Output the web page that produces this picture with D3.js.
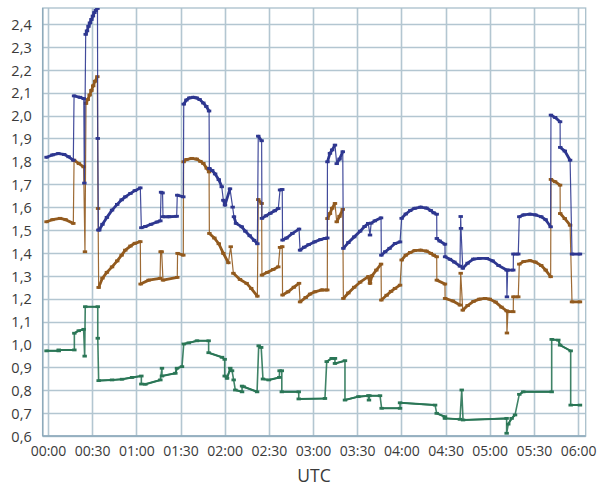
<!DOCTYPE html>
<html>
<head>
<meta charset="utf-8">
<script src="https://cdn.jsdelivr.net/npm/d3@7/dist/d3.min.js"></script>
<style>
  html, body { margin: 0; padding: 0; background: #ffffff; }
  svg { display: block; }
  text { font-family: "Open Sans", "Noto Sans", sans-serif; fill: #3a3a3a; }
</style>
</head>
<body>
<script>
// ---- data (time in minutes after 00:00 UTC, value) ----
const xTicks = [0, 30, 60, 90, 120, 150, 180, 210, 240, 270, 300, 330, 360];
const xTickLabels = ["00:00","00:30","01:00","01:30","02:00","02:30","03:00","03:30","04:00","04:30","05:00","05:30","06:00"];
const yTicks = [0.6,0.7,0.8,0.9,1.0,1.1,1.2,1.3,1.4,1.5,1.6,1.7,1.8,1.9,2.0,2.1,2.2,2.3,2.4];
const axisTitle = "UTC";

const blueSeries = [
  [-1,1.818],[3,1.828],[7,1.834],[11,1.830],[14,1.820],[17.2,1.805],
  [17.7,2.086],[21.7,2.080],[24.3,2.074],[24.7,1.705],[25.6,2.355],[26.5,2.37],[27.5,2.39],[28.5,2.405],
  [29.5,2.42],[30.5,2.435],[31.5,2.45],[32.5,2.46],[33.6,2.468],[33.8,1.90],[34.2,1.50],
  [34.8,1.50],[37,1.525],[40,1.555],[43.5,1.587],[47,1.612],[50,1.632],[52.5,1.645],[56,1.660],[59,1.672],[62.7,1.684],
  [63.4,1.51],[66,1.515],[70,1.525],[74,1.535],[76.3,1.54],[76.8,1.665],[77.8,1.662],[78.1,1.558],[82,1.558],[87.4,1.56],
  [87.8,1.652],[91.9,1.645],[92.2,2.05],[94,2.068],[96,2.077],[98.7,2.08],[101,2.077],[103,2.07],[105.5,2.055],[107.5,2.04],[109.4,2.02],
  [109.6,1.769],[111.5,1.76],[113.5,1.745],[116,1.72],[118,1.689],[119.1,1.63],[120.2,1.609],[123.6,1.68],[125.4,1.60],
  [126.3,1.558],[127.7,1.529],[131.6,1.514],[134,1.495],[137,1.475],[140,1.455],[142.2,1.44],
  [142.8,1.91],[145.1,1.89],[145.3,1.551],[148,1.562],[151,1.573],[154,1.584],[156.4,1.594],[157.6,1.675],[159.1,1.677],
  [159.3,1.456],[162,1.465],[166,1.485],[170.5,1.504],[171.2,1.412],[174,1.425],[177,1.436],[181,1.448],[185,1.458],[188.1,1.463],[189.7,1.465],
  [189.8,1.798],[191.5,1.835],[193,1.85],[194.9,1.871],[196.1,1.79],[198,1.81],[200.2,1.842],
  [200.6,1.42],[204,1.445],[208,1.47],[212,1.495],[215,1.515],[217.5,1.529],[218.7,1.478],[219.5,1.53],[222,1.54],[226.2,1.553],
  [226.4,1.39],[229,1.405],[232,1.42],[235.7,1.441],[239.1,1.448],
  [240.2,1.551],[243,1.57],[246,1.585],[249,1.595],[253.1,1.60],[257,1.596],[260,1.585],[262,1.575],[264,1.569],
  [264.1,1.463],[266,1.452],[269.6,1.438],[269.7,1.383],[273,1.372],[276,1.36],[279.8,1.342],[280.3,1.559],[280.5,1.507],
  [281.7,1.333],[285,1.355],[288.9,1.373],[293,1.376],[298,1.376],[302,1.365],[306,1.345],[311.5,1.325],
  [311.7,1.208],[312.2,1.325],[316,1.325],[316.1,1.395],[319.4,1.395],
  [320.1,1.558],[323,1.566],[327.4,1.569],[331,1.566],[335,1.558],[338,1.545],[341.4,1.514],
  [341.6,2.002],[344.4,1.992],[347.8,1.973],[347.9,1.861],[351,1.845],[354.6,1.805],[355.9,1.395],[361.3,1.395]
];

const brownSeries = [
  [-1,1.536],[3,1.545],[8.2,1.551],[12,1.545],[17.2,1.529],[17.7,1.805],[21,1.79],[24.2,1.776],[25.1,1.405],
  [25.8,2.053],[27,2.07],[28.3,2.09],[29.5,2.11],[30.7,2.13],[32,2.15],[33.5,2.17],[34.0,1.594],[34.4,1.249],
  [37,1.29],[40,1.315],[43.5,1.339],[47,1.365],[50,1.39],[52.5,1.412],[56,1.43],[59,1.442],[62.7,1.449],
  [62.9,1.264],[68.4,1.281],[76.1,1.289],[76.5,1.405],[77.2,1.405],[78.1,1.281],[87.8,1.293],[88,1.398],[91.9,1.39],
  [92.1,1.798],[94,1.808],[97.6,1.813],[101,1.81],[103.5,1.80],[105.5,1.791],[107.8,1.77],[109.4,1.754],
  [109.6,1.485],[113,1.465],[116,1.44],[119.1,1.398],[122.5,1.357],[124.1,1.427],[125.9,1.311],[130.4,1.284],
  [134.9,1.267],[138,1.245],[142.2,1.211],[142.8,1.633],[145.1,1.616],[145.3,1.303],[149,1.315],[153,1.328],[156.4,1.339],
  [157.6,1.424],[159.1,1.427],[159.3,1.216],[163,1.23],[167,1.25],[170.5,1.267],[171.2,1.186],[175,1.205],[178,1.22],
  [181.3,1.23],[186,1.238],[189.7,1.238],[189.8,1.55],[191.5,1.572],[193,1.595],[194.9,1.616],[196.1,1.536],[198,1.56],[200.2,1.59],
  [200.6,1.201],[204,1.225],[208,1.25],[212,1.272],[217.5,1.296],[218.7,1.267],[220,1.3],[223,1.325],[226.2,1.351],
  [226.4,1.194],[230,1.215],[233,1.232],[235.7,1.245],[239.1,1.259],
  [240.2,1.369],[243,1.39],[246,1.402],[249,1.41],[253.1,1.412],[257,1.408],[260,1.398],[262,1.39],[264,1.383],
  [264.1,1.281],[269.6,1.264],[269.7,1.201],[275,1.19],[279.8,1.172],[280.3,1.311],[281.7,1.15],
  [285,1.17],[289,1.188],[293,1.198],[296.8,1.201],[300,1.198],[304,1.185],[308,1.163],[311.5,1.147],
  [311.7,1.05],[312.4,1.143],[316,1.143],[316.1,1.208],[319.4,1.208],
  [320.1,1.351],[323,1.362],[327.4,1.366],[331,1.36],[335,1.345],[338,1.325],[341.4,1.296],
  [341.6,1.721],[344.4,1.711],[347.8,1.696],[347.9,1.572],[351,1.55],[354.6,1.521],[355.9,1.186],[361.3,1.186]
];

const greenSeries = [
  [-1,0.972],[7.3,0.972],[7.3,0.976],[17.9,0.976],[17.9,1.049],[20.9,1.06],[24.2,1.066],[24.9,0.949],[25.3,1.165],
  [33.8,1.165],[33.8,1.027],[34.4,0.842],[43.5,0.845],[50.3,0.848],[57.1,0.856],[63.4,0.862],[63.4,0.827],[66.1,0.826],
  [76.3,0.845],[77.4,0.896],[77.4,0.862],[86.5,0.874],[87.6,0.896],[91.0,0.903],[92.2,1.002],[95.6,1.007],[101.2,1.016],
  [109.1,1.016],[109.1,0.964],[118.2,0.944],[120.0,0.935],[120.0,0.862],[121.6,0.852],[123.8,0.896],[125.0,0.885],
  [126.1,0.845],[127.2,0.801],[131.8,0.793],[131.8,0.818],[132.9,0.815],[142.0,0.793],[143.1,0.994],[144.8,0.987],
  [146.0,0.849],[149.9,0.845],[157.1,0.856],[157.3,0.885],[158.8,0.885],[158.8,0.793],[170.3,0.793],[170.3,0.762],
  [188.1,0.764],[189.3,0.925],[192.7,0.939],[194.9,0.939],[194.9,0.917],[201.7,0.929],[201.7,0.757],[210.8,0.772],
  [217.5,0.776],[218.0,0.757],[218.3,0.776],[225.5,0.776],[226.6,0.721],[239.1,0.721],[239.1,0.745],[262.9,0.735],
  [264.0,0.699],[269.6,0.684],[269.6,0.677],[279.8,0.673],[281.0,0.801],[281.9,0.67],[311.5,0.677],[311.5,0.612],
  [312.6,0.652],[314.9,0.677],[317.2,0.692],[320.1,0.782],[322.8,0.793],[342.1,0.793],[342.1,1.022],[346.6,1.019],
  [347.8,0.997],[355.0,0.972],[355.0,0.735],[361.3,0.735]
];

const seriesColors = ["#2e3790", "#925a1e", "#2a7656"];

// ---- layout ----
const W = 598, H = 486;
const plot = { left: 42.7, right: 585.7, top: 8, bottom: 436 };

const svg = d3.select("body").append("svg").attr("width", W).attr("height", H);

const x = d3.scaleLinear().domain([-3.6, 365.2]).range([plot.left, plot.right]);
const y = d3.scaleLinear().domain([0.6, 2.47]).range([plot.bottom, plot.top]);

const grid = svg.append("g");
grid.selectAll("line.h").data(yTicks).enter().append("line")
  .attr("x1", plot.left).attr("x2", plot.right)
  .attr("y1", d => Math.round(y(d)) + 0.5).attr("y2", d => Math.round(y(d)) + 0.5)
  .attr("stroke", "#b3c6d1").attr("stroke-width", 1.3);
grid.selectAll("line.v").data(xTicks).enter().append("line")
  .attr("y1", plot.top).attr("y2", plot.bottom)
  .attr("x1", d => Math.round(x(d)) + 0.5).attr("x2", d => Math.round(x(d)) + 0.5)
  .attr("stroke", "#b3c6d1").attr("stroke-width", 1.6);
svg.append("rect")
  .attr("x", plot.left).attr("y", plot.top)
  .attr("width", plot.right - plot.left).attr("height", plot.bottom - plot.top)
  .attr("fill", "none").attr("stroke", "#a9bfcb").attr("stroke-width", 1.3);
svg.append("line").attr("x1", plot.left).attr("x2", plot.left).attr("y1", plot.top).attr("y2", plot.bottom)
  .attr("stroke", "#8eaabb").attr("stroke-width", 1.5);
svg.append("line").attr("x1", plot.left).attr("x2", plot.right).attr("y1", plot.bottom).attr("y2", plot.bottom)
  .attr("stroke", "#8eaabb").attr("stroke-width", 1.5);

const yAxis = d3.axisLeft(y).tickValues(yTicks).tickSize(0).tickPadding(0)
  .tickFormat(d => d3.format(".1f")(d).replace(".", ","));
const gy = svg.append("g").attr("transform", `translate(${plot.left - 11},0)`).call(yAxis);
gy.select(".domain").remove();
gy.selectAll("text").attr("font-size", 14.5).attr("fill", "#333")
  .style("font-family", "'Open Sans', sans-serif").attr("dy", "0.36em");

const xAxis = d3.axisBottom(x).tickValues(xTicks).tickSize(0).tickPadding(0)
  .tickFormat((d, i) => xTickLabels[i]);
const gx = svg.append("g").attr("transform", `translate(0,${plot.bottom + 9})`).call(xAxis);
gx.select(".domain").remove();
gx.selectAll("text").attr("font-size", 14).attr("fill", "#333")
  .style("font-family", "'Open Sans', sans-serif").attr("dy", "0.78em");

svg.append("text").attr("x", 314).attr("y", 482).attr("text-anchor", "middle")
  .attr("font-size", 17.5).attr("fill", "#333").text(axisTitle);

// series
const line = d3.line().x(d => x(d[0])).y(d => y(d[1]));
svg.append("clipPath").attr("id", "clip").append("rect")
  .attr("x", plot.left).attr("y", plot.top).attr("width", plot.right - plot.left).attr("height", plot.bottom - plot.top);

function drawSeries(s, col, thin, thick) {
  const g = svg.append("g").attr("clip-path", "url(#clip)");
  g.append("path").datum(s).attr("d", line).attr("fill", "none")
    .attr("stroke", col).attr("stroke-width", thin).attr("stroke-linejoin", "round").attr("stroke-opacity", 0.9);
  // densely-sampled (non-jump) stretches appear heavier in the source
  const segs = d3.pairs(s).filter(([a, b]) => {
    const dx = x(b[0]) - x(a[0]), dy = Math.abs(y(b[1]) - y(a[1]));
    return dx >= 1.2 && dy / dx < 4;
  });
  g.selectAll("line.seg").data(segs).enter().append("line")
    .attr("x1", d => x(d[0][0])).attr("y1", d => y(d[0][1]))
    .attr("x2", d => x(d[1][0])).attr("y2", d => y(d[1][1]))
    .attr("stroke", col).attr("stroke-width", thick).attr("stroke-linecap", "round");
  g.selectAll("rect").data(s).enter().append("rect")
    .attr("x", d => x(d[0]) - 2.2).attr("y", d => y(d[1]) - 1.4)
    .attr("width", 4.4).attr("height", 2.8).attr("fill", col);
}
drawSeries(greenSeries, seriesColors[2], 1.6, 2.0);
drawSeries(brownSeries, seriesColors[1], 1.2, 2.8);
drawSeries(blueSeries, seriesColors[0], 1.2, 2.8);
</script>
</body>
</html>
